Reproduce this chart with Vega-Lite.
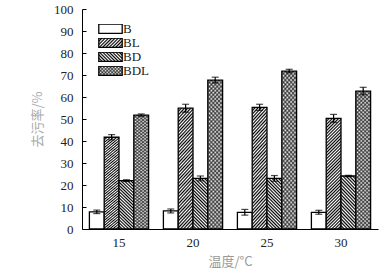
{
"$schema": "https://vega.github.io/schema/vega-lite/v6.json",
"width": 296, "height": 220,
"autosize": {"type": "none"},
"padding": {"left": 82, "top": 9, "right": 12, "bottom": 45},
"background": "white",
"config": {"view": {"stroke": null}, "font": "Liberation Serif", "axisY": {"labelOverlap": false}},
"data": {"values": [
{"temp": "15", "series": "B", "v": 7.8, "lo": 7.0, "hi": 8.6},
{"temp": "15", "series": "BL", "v": 41.7, "lo": 40.5, "hi": 42.9},
{"temp": "15", "series": "BD", "v": 22.0, "lo": 21.6, "hi": 22.4},
{"temp": "15", "series": "BDL", "v": 51.8, "lo": 51.3, "hi": 52.3},
{"temp": "20", "series": "B", "v": 8.2, "lo": 7.3, "hi": 9.1},
{"temp": "20", "series": "BL", "v": 54.9, "lo": 53.1, "hi": 56.7},
{"temp": "20", "series": "BD", "v": 23.0, "lo": 21.9, "hi": 24.1},
{"temp": "20", "series": "BDL", "v": 67.7, "lo": 66.4, "hi": 69.0},
{"temp": "25", "series": "B", "v": 7.6, "lo": 6.3, "hi": 8.9},
{"temp": "25", "series": "BL", "v": 55.3, "lo": 53.9, "hi": 56.7},
{"temp": "25", "series": "BD", "v": 23.0, "lo": 21.7, "hi": 24.3},
{"temp": "25", "series": "BDL", "v": 71.8, "lo": 71.0, "hi": 72.6},
{"temp": "30", "series": "B", "v": 7.6, "lo": 6.7, "hi": 8.5},
{"temp": "30", "series": "BL", "v": 50.3, "lo": 48.5, "hi": 52.1},
{"temp": "30", "series": "BD", "v": 24.1, "lo": 23.8, "hi": 24.4},
{"temp": "30", "series": "BDL", "v": 62.7, "lo": 61.0, "hi": 64.4}
]},
"encoding": {
  "x": {"field": "temp", "type": "ordinal", "scale": {"paddingInner": 0.2, "paddingOuter": 0.1},
        "axis": {"title": "温度/°C", "labelAngle": 0, "ticks": false, "labelPadding": 7, "titlePadding": 6,
                 "labelFont": "Liberation Serif", "labelFontSize": 13, "labelColor": "#222",
                 "titleFont": "Noto Sans CJK SC", "titleFontSize": 13, "titleFontWeight": "normal", "titleColor": "#999",
                 "domainColor": "#000", "domainWidth": 1}},
  "xOffset": {"field": "series", "type": "nominal", "scale": {"domain": ["B", "BL", "BD", "BDL"], "paddingInner": 0, "paddingOuter": 0}}
},
"layer": [
{
  "mark": {"type": "bar", "stroke": "#000", "strokeWidth": 1.3},
  "encoding": {
    "y": {"field": "v", "type": "quantitative", "scale": {"domain": [0, 100]},
          "axis": {"title": "去污率/%", "values": [0,10,20,30,40,50,60,70,80,90,100], "labelOverlap": false, "grid": false, "tickSize": -4, "tickColor": "#000", "labelPadding": 13,
                   "labelFont": "Liberation Serif", "labelFontSize": 13, "labelColor": "#222", "domainColor": "#000", "domainWidth": 1,
                   "titleFont": "Noto Sans CJK SC", "titleFontSize": 13, "titleFontWeight": "normal", "titleColor": "#aaa", "titleX": -45, "titleBaseline": "middle"}},
    "fill": {"field": "series", "type": "nominal",
      "scale": {"domain": ["B", "BL", "BD", "BDL"], "range": [
        "#fff",
        {"expr": "{gradient:'linear',x1:0,y1:0,x2:1.2068,y2:0.48273,stops:[{offset:0,color:'#000'},{offset:0.05,color:'#fff'},{offset:0.1,color:'#000'},{offset:0.15,color:'#fff'},{offset:0.2,color:'#000'},{offset:0.25,color:'#fff'},{offset:0.3,color:'#000'},{offset:0.35,color:'#fff'},{offset:0.4,color:'#000'},{offset:0.45,color:'#fff'},{offset:0.5,color:'#000'},{offset:0.55,color:'#fff'},{offset:0.6,color:'#000'},{offset:0.65,color:'#fff'},{offset:0.7,color:'#000'},{offset:0.75,color:'#fff'},{offset:0.8,color:'#000'},{offset:0.85,color:'#fff'},{offset:0.9,color:'#000'},{offset:0.95,color:'#fff'},{offset:1,color:'#000'}]}"},
        {"expr": "{gradient:'linear',x1:0,y1:1,x2:1.2068,y2:0.51727,stops:[{offset:0,color:'#000'},{offset:0.05,color:'#fff'},{offset:0.1,color:'#000'},{offset:0.15,color:'#fff'},{offset:0.2,color:'#000'},{offset:0.25,color:'#fff'},{offset:0.3,color:'#000'},{offset:0.35,color:'#fff'},{offset:0.4,color:'#000'},{offset:0.45,color:'#fff'},{offset:0.5,color:'#000'},{offset:0.55,color:'#fff'},{offset:0.6,color:'#000'},{offset:0.65,color:'#fff'},{offset:0.7,color:'#000'},{offset:0.75,color:'#fff'},{offset:0.8,color:'#000'},{offset:0.85,color:'#fff'},{offset:0.9,color:'#000'},{offset:0.95,color:'#fff'},{offset:1,color:'#000'}]}"},
        {"expr": "{gradient:'linear',x1:0,y1:0,x2:1.2068,y2:0.48273,stops:[{offset:0,color:'#666'},{offset:0.05,color:'#fff'},{offset:0.1,color:'#666'},{offset:0.15,color:'#fff'},{offset:0.2,color:'#666'},{offset:0.25,color:'#fff'},{offset:0.3,color:'#666'},{offset:0.35,color:'#fff'},{offset:0.4,color:'#666'},{offset:0.45,color:'#fff'},{offset:0.5,color:'#666'},{offset:0.55,color:'#fff'},{offset:0.6,color:'#666'},{offset:0.65,color:'#fff'},{offset:0.7,color:'#666'},{offset:0.75,color:'#fff'},{offset:0.8,color:'#666'},{offset:0.85,color:'#fff'},{offset:0.9,color:'#666'},{offset:0.95,color:'#fff'},{offset:1,color:'#666'}]}"}
      ]},
      "legend": {"orient": "none", "legendX": 16, "legendY": 15, "title": null, "padding": 0,
        "symbolType": "M-1,-0.4H1V0.4H-1Z", "symbolSize": 548, "symbolStrokeWidth": 1.3, "symbolStrokeColor": "#000",
        "clipHeight": 9.4, "rowPadding": 0,
        "labelFont": "Liberation Serif", "labelFontSize": 13, "labelColor": "#222", "labelOffset": 0},
      "condition": [
        {"test": "datum.series==='B'", "value": "#fff"},
        {"test": "datum.series==='BL'", "value": {"gradient": "linear", "x1": 0, "y1": 0, "x2": 0.14847, "y2": 1.11355, "stops": [
{"offset":0,"color":"#000"},{"offset":0.0125,"color":"#fff"},{"offset":0.025,"color":"#000"},{"offset":0.0375,"color":"#fff"},{"offset":0.05,"color":"#000"},{"offset":0.0625,"color":"#fff"},{"offset":0.075,"color":"#000"},{"offset":0.0875,"color":"#fff"},{"offset":0.1,"color":"#000"},{"offset":0.1125,"color":"#fff"},{"offset":0.125,"color":"#000"},{"offset":0.1375,"color":"#fff"},{"offset":0.15,"color":"#000"},{"offset":0.1625,"color":"#fff"},{"offset":0.175,"color":"#000"},{"offset":0.1875,"color":"#fff"},{"offset":0.2,"color":"#000"},{"offset":0.2125,"color":"#fff"},{"offset":0.225,"color":"#000"},{"offset":0.2375,"color":"#fff"},{"offset":0.25,"color":"#000"},{"offset":0.2625,"color":"#fff"},{"offset":0.275,"color":"#000"},{"offset":0.2875,"color":"#fff"},{"offset":0.3,"color":"#000"},{"offset":0.3125,"color":"#fff"},{"offset":0.325,"color":"#000"},{"offset":0.3375,"color":"#fff"},{"offset":0.35,"color":"#000"},{"offset":0.3625,"color":"#fff"},{"offset":0.375,"color":"#000"},{"offset":0.3875,"color":"#fff"},{"offset":0.4,"color":"#000"},{"offset":0.4125,"color":"#fff"},{"offset":0.425,"color":"#000"},{"offset":0.4375,"color":"#fff"},{"offset":0.45,"color":"#000"},{"offset":0.4625,"color":"#fff"},{"offset":0.475,"color":"#000"},{"offset":0.4875,"color":"#fff"},{"offset":0.5,"color":"#000"},{"offset":0.5125,"color":"#fff"},{"offset":0.525,"color":"#000"},{"offset":0.5375,"color":"#fff"},{"offset":0.55,"color":"#000"},{"offset":0.5625,"color":"#fff"},{"offset":0.575,"color":"#000"},{"offset":0.5875,"color":"#fff"},{"offset":0.6,"color":"#000"},{"offset":0.6125,"color":"#fff"},{"offset":0.625,"color":"#000"},{"offset":0.6375,"color":"#fff"},{"offset":0.65,"color":"#000"},{"offset":0.6625,"color":"#fff"},{"offset":0.675,"color":"#000"},{"offset":0.6875,"color":"#fff"},{"offset":0.7,"color":"#000"},{"offset":0.7125,"color":"#fff"},{"offset":0.725,"color":"#000"},{"offset":0.7375,"color":"#fff"},{"offset":0.75,"color":"#000"},{"offset":0.7625,"color":"#fff"},{"offset":0.775,"color":"#000"},{"offset":0.7875,"color":"#fff"},{"offset":0.8,"color":"#000"},{"offset":0.8125,"color":"#fff"},{"offset":0.825,"color":"#000"},{"offset":0.8375,"color":"#fff"},{"offset":0.85,"color":"#000"},{"offset":0.8625,"color":"#fff"},{"offset":0.875,"color":"#000"},{"offset":0.8875,"color":"#fff"},{"offset":0.9,"color":"#000"},{"offset":0.9125,"color":"#fff"},{"offset":0.925,"color":"#000"},{"offset":0.9375,"color":"#fff"},{"offset":0.95,"color":"#000"},{"offset":0.9625,"color":"#fff"},{"offset":0.975,"color":"#000"},{"offset":0.9875,"color":"#fff"},{"offset":1,"color":"#000"}]}},
        {"test": "datum.series==='BD'", "value": {"gradient": "linear", "x1": 0, "y1": 1, "x2": 0.3483, "y2": -0.1906, "stops": [
{"offset":0,"color":"#000"},{"offset":0.025,"color":"#fff"},{"offset":0.05,"color":"#000"},{"offset":0.075,"color":"#fff"},{"offset":0.1,"color":"#000"},{"offset":0.125,"color":"#fff"},{"offset":0.15,"color":"#000"},{"offset":0.175,"color":"#fff"},{"offset":0.2,"color":"#000"},{"offset":0.225,"color":"#fff"},{"offset":0.25,"color":"#000"},{"offset":0.275,"color":"#fff"},{"offset":0.3,"color":"#000"},{"offset":0.325,"color":"#fff"},{"offset":0.35,"color":"#000"},{"offset":0.375,"color":"#fff"},{"offset":0.4,"color":"#000"},{"offset":0.425,"color":"#fff"},{"offset":0.45,"color":"#000"},{"offset":0.475,"color":"#fff"},{"offset":0.5,"color":"#000"},{"offset":0.525,"color":"#fff"},{"offset":0.55,"color":"#000"},{"offset":0.575,"color":"#fff"},{"offset":0.6,"color":"#000"},{"offset":0.625,"color":"#fff"},{"offset":0.65,"color":"#000"},{"offset":0.675,"color":"#fff"},{"offset":0.7,"color":"#000"},{"offset":0.725,"color":"#fff"},{"offset":0.75,"color":"#000"},{"offset":0.775,"color":"#fff"},{"offset":0.8,"color":"#000"},{"offset":0.825,"color":"#fff"},{"offset":0.85,"color":"#000"},{"offset":0.875,"color":"#fff"},{"offset":0.9,"color":"#000"},{"offset":0.925,"color":"#fff"},{"offset":0.95,"color":"#000"},{"offset":0.975,"color":"#fff"},{"offset":1,"color":"#000"}]}},
        {"test": "datum.series==='BDL'", "value": {"gradient": "linear", "x1": 0, "y1": 0, "x2": 0.11649, "y2": 1.09407, "stops": [
{"offset":0,"color":"#666"},{"offset":0.0125,"color":"#fff"},{"offset":0.025,"color":"#666"},{"offset":0.0375,"color":"#fff"},{"offset":0.05,"color":"#666"},{"offset":0.0625,"color":"#fff"},{"offset":0.075,"color":"#666"},{"offset":0.0875,"color":"#fff"},{"offset":0.1,"color":"#666"},{"offset":0.1125,"color":"#fff"},{"offset":0.125,"color":"#666"},{"offset":0.1375,"color":"#fff"},{"offset":0.15,"color":"#666"},{"offset":0.1625,"color":"#fff"},{"offset":0.175,"color":"#666"},{"offset":0.1875,"color":"#fff"},{"offset":0.2,"color":"#666"},{"offset":0.2125,"color":"#fff"},{"offset":0.225,"color":"#666"},{"offset":0.2375,"color":"#fff"},{"offset":0.25,"color":"#666"},{"offset":0.2625,"color":"#fff"},{"offset":0.275,"color":"#666"},{"offset":0.2875,"color":"#fff"},{"offset":0.3,"color":"#666"},{"offset":0.3125,"color":"#fff"},{"offset":0.325,"color":"#666"},{"offset":0.3375,"color":"#fff"},{"offset":0.35,"color":"#666"},{"offset":0.3625,"color":"#fff"},{"offset":0.375,"color":"#666"},{"offset":0.3875,"color":"#fff"},{"offset":0.4,"color":"#666"},{"offset":0.4125,"color":"#fff"},{"offset":0.425,"color":"#666"},{"offset":0.4375,"color":"#fff"},{"offset":0.45,"color":"#666"},{"offset":0.4625,"color":"#fff"},{"offset":0.475,"color":"#666"},{"offset":0.4875,"color":"#fff"},{"offset":0.5,"color":"#666"},{"offset":0.5125,"color":"#fff"},{"offset":0.525,"color":"#666"},{"offset":0.5375,"color":"#fff"},{"offset":0.55,"color":"#666"},{"offset":0.5625,"color":"#fff"},{"offset":0.575,"color":"#666"},{"offset":0.5875,"color":"#fff"},{"offset":0.6,"color":"#666"},{"offset":0.6125,"color":"#fff"},{"offset":0.625,"color":"#666"},{"offset":0.6375,"color":"#fff"},{"offset":0.65,"color":"#666"},{"offset":0.6625,"color":"#fff"},{"offset":0.675,"color":"#666"},{"offset":0.6875,"color":"#fff"},{"offset":0.7,"color":"#666"},{"offset":0.7125,"color":"#fff"},{"offset":0.725,"color":"#666"},{"offset":0.7375,"color":"#fff"},{"offset":0.75,"color":"#666"},{"offset":0.7625,"color":"#fff"},{"offset":0.775,"color":"#666"},{"offset":0.7875,"color":"#fff"},{"offset":0.8,"color":"#666"},{"offset":0.8125,"color":"#fff"},{"offset":0.825,"color":"#666"},{"offset":0.8375,"color":"#fff"},{"offset":0.85,"color":"#666"},{"offset":0.8625,"color":"#fff"},{"offset":0.875,"color":"#666"},{"offset":0.8875,"color":"#fff"},{"offset":0.9,"color":"#666"},{"offset":0.9125,"color":"#fff"},{"offset":0.925,"color":"#666"},{"offset":0.9375,"color":"#fff"},{"offset":0.95,"color":"#666"},{"offset":0.9625,"color":"#fff"},{"offset":0.975,"color":"#666"},{"offset":0.9875,"color":"#fff"},{"offset":1,"color":"#666"}]}}
      ]
    }
  }
},
{
  "transform": [{"filter": "datum.series==='BDL'"}],
  "mark": {"type": "bar", "strokeWidth": 0},
  "encoding": {
    "y": {"field": "v", "type": "quantitative",
          "axis": {"title": "去污率/%", "values": [0,10,20,30,40,50,60,70,80,90,100], "labelOverlap": false, "grid": false, "tickSize": -4, "tickColor": "#000", "labelPadding": 13,
                   "labelFont": "Liberation Serif", "labelFontSize": 13, "labelColor": "#222", "domainColor": "#000", "domainWidth": 1,
                   "titleFont": "Noto Sans CJK SC", "titleFontSize": 13, "titleFontWeight": "normal", "titleColor": "#aaa", "titleX": -45, "titleBaseline": "middle"}},
    "fill": {"field": "series", "type": "nominal",
      "scale": {"domain": ["B", "BL", "BD", "BDL"], "range": [
        "transparent", "transparent", "transparent",
        {"expr": "{gradient:'linear',x1:0,y1:1,x2:1.2068,y2:0.51727,stops:[{offset:0,color:'rgba(0,0,0,0.6)'},{offset:0.05,color:'rgba(0,0,0,0)'},{offset:0.1,color:'rgba(0,0,0,0.6)'},{offset:0.15,color:'rgba(0,0,0,0)'},{offset:0.2,color:'rgba(0,0,0,0.6)'},{offset:0.25,color:'rgba(0,0,0,0)'},{offset:0.3,color:'rgba(0,0,0,0.6)'},{offset:0.35,color:'rgba(0,0,0,0)'},{offset:0.4,color:'rgba(0,0,0,0.6)'},{offset:0.45,color:'rgba(0,0,0,0)'},{offset:0.5,color:'rgba(0,0,0,0.6)'},{offset:0.55,color:'rgba(0,0,0,0)'},{offset:0.6,color:'rgba(0,0,0,0.6)'},{offset:0.65,color:'rgba(0,0,0,0)'},{offset:0.7,color:'rgba(0,0,0,0.6)'},{offset:0.75,color:'rgba(0,0,0,0)'},{offset:0.8,color:'rgba(0,0,0,0.6)'},{offset:0.85,color:'rgba(0,0,0,0)'},{offset:0.9,color:'rgba(0,0,0,0.6)'},{offset:0.95,color:'rgba(0,0,0,0)'},{offset:1,color:'rgba(0,0,0,0.6)'}]}"}
      ]},
      "legend": {"orient": "none", "legendX": 16, "legendY": 15, "title": null, "padding": 0,
        "symbolType": "M-1,-0.4H1V0.4H-1Z", "symbolSize": 548, "symbolStrokeWidth": 1.3, "symbolStrokeColor": "transparent",
        "clipHeight": 9.4, "rowPadding": 0,
        "labelFont": "Liberation Serif", "labelFontSize": 13, "labelColor": "#222", "labelOpacity": 0, "labelOffset": 0},
      "condition": {"test": "datum.series==='BDL'", "value": {"gradient": "linear", "x1": 0, "y1": 1, "x2": 0.11649, "y2": -0.09407, "stops": [
{"offset":0,"color":"rgba(0,0,0,0.6)"},{"offset":0.0125,"color":"rgba(0,0,0,0)"},{"offset":0.025,"color":"rgba(0,0,0,0.6)"},{"offset":0.0375,"color":"rgba(0,0,0,0)"},{"offset":0.05,"color":"rgba(0,0,0,0.6)"},{"offset":0.0625,"color":"rgba(0,0,0,0)"},{"offset":0.075,"color":"rgba(0,0,0,0.6)"},{"offset":0.0875,"color":"rgba(0,0,0,0)"},{"offset":0.1,"color":"rgba(0,0,0,0.6)"},{"offset":0.1125,"color":"rgba(0,0,0,0)"},{"offset":0.125,"color":"rgba(0,0,0,0.6)"},{"offset":0.1375,"color":"rgba(0,0,0,0)"},{"offset":0.15,"color":"rgba(0,0,0,0.6)"},{"offset":0.1625,"color":"rgba(0,0,0,0)"},{"offset":0.175,"color":"rgba(0,0,0,0.6)"},{"offset":0.1875,"color":"rgba(0,0,0,0)"},{"offset":0.2,"color":"rgba(0,0,0,0.6)"},{"offset":0.2125,"color":"rgba(0,0,0,0)"},{"offset":0.225,"color":"rgba(0,0,0,0.6)"},{"offset":0.2375,"color":"rgba(0,0,0,0)"},{"offset":0.25,"color":"rgba(0,0,0,0.6)"},{"offset":0.2625,"color":"rgba(0,0,0,0)"},{"offset":0.275,"color":"rgba(0,0,0,0.6)"},{"offset":0.2875,"color":"rgba(0,0,0,0)"},{"offset":0.3,"color":"rgba(0,0,0,0.6)"},{"offset":0.3125,"color":"rgba(0,0,0,0)"},{"offset":0.325,"color":"rgba(0,0,0,0.6)"},{"offset":0.3375,"color":"rgba(0,0,0,0)"},{"offset":0.35,"color":"rgba(0,0,0,0.6)"},{"offset":0.3625,"color":"rgba(0,0,0,0)"},{"offset":0.375,"color":"rgba(0,0,0,0.6)"},{"offset":0.3875,"color":"rgba(0,0,0,0)"},{"offset":0.4,"color":"rgba(0,0,0,0.6)"},{"offset":0.4125,"color":"rgba(0,0,0,0)"},{"offset":0.425,"color":"rgba(0,0,0,0.6)"},{"offset":0.4375,"color":"rgba(0,0,0,0)"},{"offset":0.45,"color":"rgba(0,0,0,0.6)"},{"offset":0.4625,"color":"rgba(0,0,0,0)"},{"offset":0.475,"color":"rgba(0,0,0,0.6)"},{"offset":0.4875,"color":"rgba(0,0,0,0)"},{"offset":0.5,"color":"rgba(0,0,0,0.6)"},{"offset":0.5125,"color":"rgba(0,0,0,0)"},{"offset":0.525,"color":"rgba(0,0,0,0.6)"},{"offset":0.5375,"color":"rgba(0,0,0,0)"},{"offset":0.55,"color":"rgba(0,0,0,0.6)"},{"offset":0.5625,"color":"rgba(0,0,0,0)"},{"offset":0.575,"color":"rgba(0,0,0,0.6)"},{"offset":0.5875,"color":"rgba(0,0,0,0)"},{"offset":0.6,"color":"rgba(0,0,0,0.6)"},{"offset":0.6125,"color":"rgba(0,0,0,0)"},{"offset":0.625,"color":"rgba(0,0,0,0.6)"},{"offset":0.6375,"color":"rgba(0,0,0,0)"},{"offset":0.65,"color":"rgba(0,0,0,0.6)"},{"offset":0.6625,"color":"rgba(0,0,0,0)"},{"offset":0.675,"color":"rgba(0,0,0,0.6)"},{"offset":0.6875,"color":"rgba(0,0,0,0)"},{"offset":0.7,"color":"rgba(0,0,0,0.6)"},{"offset":0.7125,"color":"rgba(0,0,0,0)"},{"offset":0.725,"color":"rgba(0,0,0,0.6)"},{"offset":0.7375,"color":"rgba(0,0,0,0)"},{"offset":0.75,"color":"rgba(0,0,0,0.6)"},{"offset":0.7625,"color":"rgba(0,0,0,0)"},{"offset":0.775,"color":"rgba(0,0,0,0.6)"},{"offset":0.7875,"color":"rgba(0,0,0,0)"},{"offset":0.8,"color":"rgba(0,0,0,0.6)"},{"offset":0.8125,"color":"rgba(0,0,0,0)"},{"offset":0.825,"color":"rgba(0,0,0,0.6)"},{"offset":0.8375,"color":"rgba(0,0,0,0)"},{"offset":0.85,"color":"rgba(0,0,0,0.6)"},{"offset":0.8625,"color":"rgba(0,0,0,0)"},{"offset":0.875,"color":"rgba(0,0,0,0.6)"},{"offset":0.8875,"color":"rgba(0,0,0,0)"},{"offset":0.9,"color":"rgba(0,0,0,0.6)"},{"offset":0.9125,"color":"rgba(0,0,0,0)"},{"offset":0.925,"color":"rgba(0,0,0,0.6)"},{"offset":0.9375,"color":"rgba(0,0,0,0)"},{"offset":0.95,"color":"rgba(0,0,0,0.6)"},{"offset":0.9625,"color":"rgba(0,0,0,0)"},{"offset":0.975,"color":"rgba(0,0,0,0.6)"},{"offset":0.9875,"color":"rgba(0,0,0,0)"},{"offset":1,"color":"rgba(0,0,0,0.6)"}]}}
    }
  }
},
{
  "mark": {"type": "rule", "color": "#000", "strokeWidth": 1.2},
  "encoding": {"y": {"field": "lo", "type": "quantitative",
          "axis": {"title": "去污率/%", "values": [0,10,20,30,40,50,60,70,80,90,100], "labelOverlap": false, "grid": false, "tickSize": -4, "tickColor": "#000", "labelPadding": 13,
                   "labelFont": "Liberation Serif", "labelFontSize": 13, "labelColor": "#222", "domainColor": "#000", "domainWidth": 1,
                   "titleFont": "Noto Sans CJK SC", "titleFontSize": 13, "titleFontWeight": "normal", "titleColor": "#aaa", "titleX": -45, "titleBaseline": "middle"}},
               "y2": {"field": "hi"}}
},
{
  "mark": {"type": "tick", "orient": "horizontal", "size": 7, "thickness": 1.2, "color": "#000"},
  "encoding": {"y": {"field": "lo", "type": "quantitative",
          "axis": {"title": "去污率/%", "values": [0,10,20,30,40,50,60,70,80,90,100], "labelOverlap": false, "grid": false, "tickSize": -4, "tickColor": "#000", "labelPadding": 13,
                   "labelFont": "Liberation Serif", "labelFontSize": 13, "labelColor": "#222", "domainColor": "#000", "domainWidth": 1,
                   "titleFont": "Noto Sans CJK SC", "titleFontSize": 13, "titleFontWeight": "normal", "titleColor": "#aaa", "titleX": -45, "titleBaseline": "middle"}}}
},
{
  "mark": {"type": "tick", "orient": "horizontal", "size": 7, "thickness": 1.2, "color": "#000"},
  "encoding": {"y": {"field": "hi", "type": "quantitative",
          "axis": {"title": "去污率/%", "values": [0,10,20,30,40,50,60,70,80,90,100], "labelOverlap": false, "grid": false, "tickSize": -4, "tickColor": "#000", "labelPadding": 13,
                   "labelFont": "Liberation Serif", "labelFontSize": 13, "labelColor": "#222", "domainColor": "#000", "domainWidth": 1,
                   "titleFont": "Noto Sans CJK SC", "titleFontSize": 13, "titleFontWeight": "normal", "titleColor": "#aaa", "titleX": -45, "titleBaseline": "middle"}}}
}
],
"resolve": {"scale": {"fill": "independent"}}
}
